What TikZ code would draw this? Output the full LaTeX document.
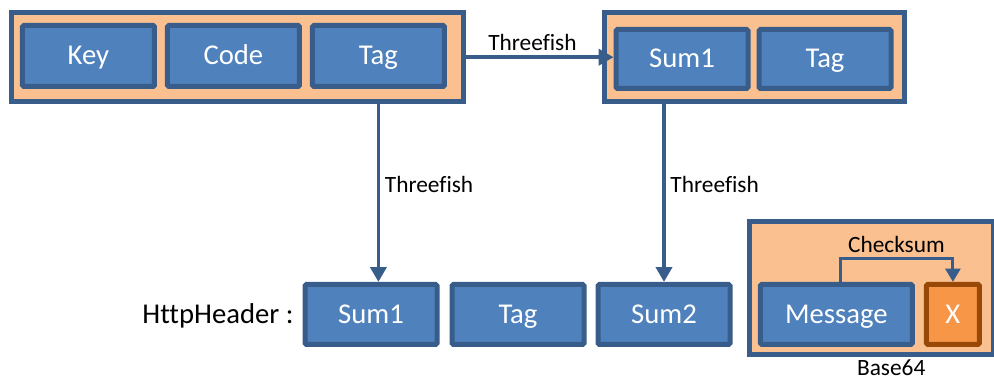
\documentclass[tikz,border=0pt]{standalone}
\usepackage{fontspec}
\setmainfont{Carlito}[Ligatures=NoCommon]
\usepackage{tikz}
\usetikzlibrary{arrows.meta, positioning, calc}
\definecolor{boxblue}{HTML}{4F81BD}
\definecolor{edgeblue}{HTML}{385D8A}
\definecolor{peach}{HTML}{FAC090}
\definecolor{xorange}{HTML}{F79646}
\definecolor{xbrown}{HTML}{984807}

\begin{document}
\begin{tikzpicture}[
  >={Triangle[length=0.37cm, width=0.4cm]},
  field/.style={draw=edgeblue, line width=0.125cm, rounded corners=1pt, fill=boxblue,
    text=white, minimum width=3.3cm, minimum height=1.525cm,
    text height=0.45cm, text depth=0pt,
    font=\fontsize{20.4}{24}\selectfont},
  group/.style={draw=edgeblue, line width=0.125cm, fill=peach, minimum height=2.225cm},
  flow/.style={->, draw=edgeblue, line width=0.09cm},
  lbl/.style={font=\fontsize{16.6}{20}\selectfont}
]
\useasboundingbox (0,0) rectangle (24.85,-9.5);

% first row: key, code, tag
\node[group, minimum width=11.3cm] (keyrow) at (5.94,-1.43) {};
\node[field] (key) at (2.21,-1.4) {Key};
\node[field, right=0.2cm of key] (code) {Code};
\node[field, right=0.2cm of code] (tag) {Tag};

% second row: encrypted sum and tag
\node[group, minimum width=7.5cm] (sumrow) at (18.86,-1.43) {};
\node[field, minimum height=1.475cm] (sumA) at (17.05,-1.475) {Sum1};
\node[field, minimum height=1.475cm, right=0.15cm of sumA] (tagA) {Tag};

% header fields
\node[field, minimum height=1.5cm] (sumB) at (9.275,-7.86) {Sum1};
\node[field, minimum height=1.5cm, right=0.25cm of sumB] (tagB) {Tag};
\node[field, minimum height=1.5cm, right=0.225cm of tagB] (sumC) {Sum2};
\node[font=\fontsize{20.4}{24}\selectfont, text height=0.45cm, text depth=0pt,
  left=0.1cm of sumB] (hdr) {HttpHeader :};

% base64 block with checksum
\node[group, minimum width=6.09cm, minimum height=3.325cm] (b64) at (21.78,-7.2) {};
\node[field, minimum width=3.8cm, minimum height=1.5cm] (msg) at (20.91,-7.86) {Message};
\node[field, draw=xbrown, fill=xorange, minimum width=1.325cm, minimum height=1.5cm,
  right=0.225cm of msg] (xbox) {X};
\node[lbl, inner sep=0pt, anchor=base] (b64lbl) at (22.28,-9.38) {Base64};

\draw[flow] (keyrow.east) -- (keyrow.east -| sumA.west) node[lbl, pos=0.45, above] {Threefish};
\draw[flow] (tag.south |- keyrow.south) -- (tag.south |- sumB.north) node[lbl, pos=0.45, right] {Threefish};
\draw[flow] (sumC.north |- sumrow.south) -- (sumC.north) node[lbl, pos=0.45, right] {Threefish};
\draw[flow, line width=0.075cm, -{Triangle[length=0.33cm, width=0.37cm]}]
  ([xshift=0.09cm]msg.north) -- ++(0,0.575) -| node[lbl, pos=0.25, above] {Checksum} (xbox.north);
\end{tikzpicture}
\end{document}
